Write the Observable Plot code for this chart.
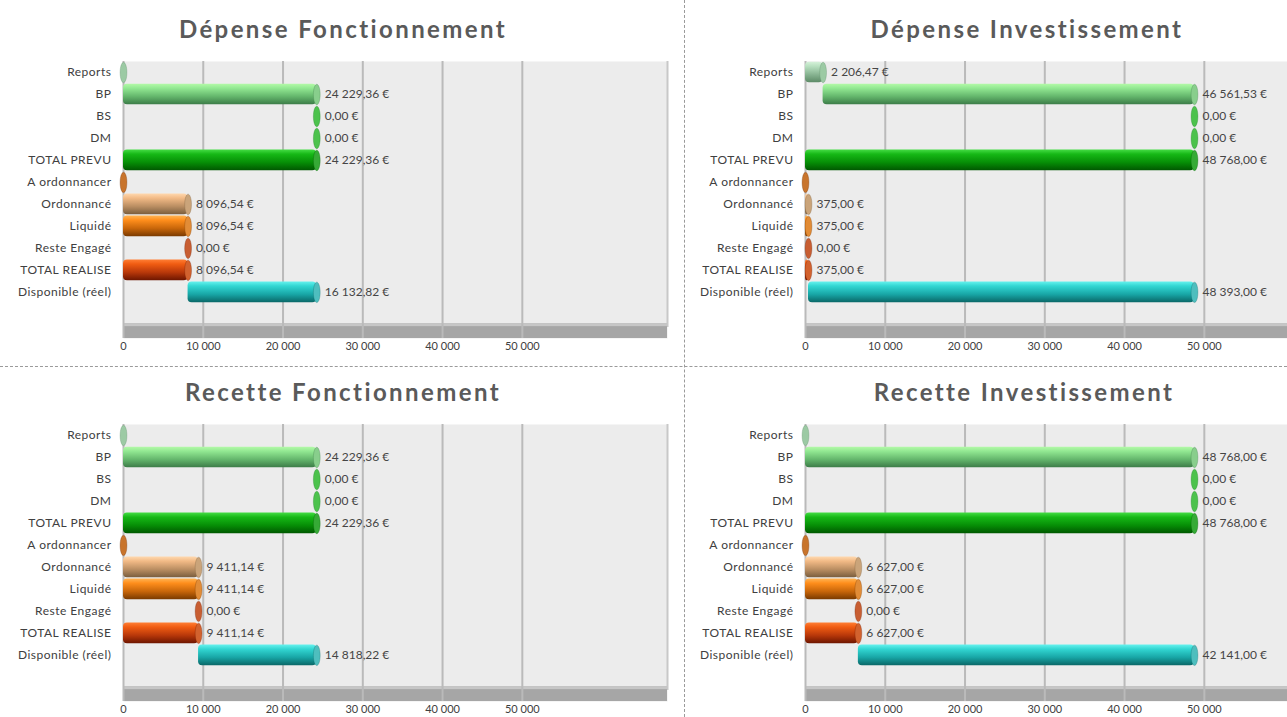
<!DOCTYPE html>
<html>
<head>
<meta charset="utf-8">
<script src="https://cdn.jsdelivr.net/npm/d3@7"></script>
<script src="https://cdn.jsdelivr.net/npm/@observablehq/plot@0.6"></script>
<style>
  html, body { margin: 0; padding: 0; background: #fff; }
  body { width: 1287px; height: 717px; overflow: hidden; position: relative; font-family: Lato, "Open Sans", sans-serif; }
  .title { position: absolute; width: 500px; text-align: center; font-weight: bold; font-size: 24px; line-height: 30px; color: #5a5a5a; letter-spacing: 2.4px; }
  .chart { position: absolute; width: 684px; height: 310px; }
  .chart svg { max-width: none !important; }
  .vsep { position: absolute; left: 684px; top: 0; height: 717px; border-left: 1px dashed #9a9a9a; }
  .hsep { position: absolute; left: 0; top: 366px; width: 1287px; border-top: 1px dashed #9a9a9a; }
</style>
</head>
<body>
<svg width="0" height="0" style="position:absolute"><defs id="gradDefs"></defs></svg>
<div class="vsep"></div>
<div class="hsep"></div>
<script>
// ---------- DATA ----------
const categories = ["Reports", "BP", "BS", "DM", "TOTAL PREVU", "A ordonnancer", "Ordonnancé", "Liquidé", "Reste Engagé", "TOTAL REALISE", "Disponible (réel)"];
const titles = ["Dépense Fonctionnement", "Dépense Investissement", "Recette Fonctionnement", "Recette Investissement"];

const depFoncValues = [0, 24229.36, 0, 0, 24229.36, 0, 8096.54, 8096.54, 0, 8096.54, 16132.82];
const depFoncStarts = [0, 0, 24229.36, 24229.36, 0, 0, 0, 0, 8096.54, 0, 8096.54];

const depInvValues = [2206.47, 46561.53, 0, 0, 48768.00, 0, 375.00, 375.00, 0, 375.00, 48393.00];
const depInvStarts = [0, 2206.47, 48768.00, 48768.00, 0, 0, 0, 0, 375.00, 0, 375.00];

const recFoncValues = [0, 24229.36, 0, 0, 24229.36, 0, 9411.14, 9411.14, 0, 9411.14, 14818.22];
const recFoncStarts = [0, 0, 24229.36, 24229.36, 0, 0, 0, 0, 9411.14, 0, 9411.14];

const recInvValues = [0, 48768.00, 0, 0, 48768.00, 0, 6627.00, 6627.00, 0, 6627.00, 42141.00];
const recInvStarts = [0, 0, 48768.00, 48768.00, 0, 0, 0, 0, 6627.00, 0, 6627.00];

const xTicks = [0, 10000, 20000, 30000, 40000, 50000];
const xMax = 68200;
const unlabelledWhenZero = ["Reports", "A ordonnancer"];

// ---------- STYLE ----------
const barGradients = [
  ["#d6f2da", "#b8e0c0", "#88b492", "#5c8a66"],   // Reports
  ["#b4faa8", "#92e892", "#64b66c", "#3c7c48"],   // BP
  ["#70dc70", "#46c246", "#2a9c34", "#187822"],   // BS
  ["#70dc70", "#46c246", "#2a9c34", "#187822"],   // DM
  ["#44dc44", "#16b816", "#068e06", "#005800"],   // TOTAL PREVU
  ["#ea9450", "#ca7022", "#a05212", "#6e3008"],   // A ordonnancer
  ["#ffd8ae", "#f2ba86", "#ba8e62", "#7a5e3e"],   // Ordonnancé
  ["#ffb454", "#ff8e1c", "#c8660a", "#7a3a00"],   // Liquidé
  ["#ea744a", "#d25c2a", "#a8421a", "#6e2008"],   // Reste Engagé
  ["#ff7e34", "#f05c12", "#b8380a", "#6e1600"],   // TOTAL REALISE
  ["#66f2ee", "#32d6d2", "#18a6a6", "#0a6868"]    // Disponible
];
const capColors = ["#9ccaa4", "#88ce8c", "#4cc24c", "#4cc24c", "#36aa36", "#c8742c", "#caa47a", "#e28c36", "#c85e32", "#d2622e", "#4ebebe"];

const defs = document.getElementById("gradDefs");
barGradients.forEach((stops, i) => {
  const ns = "http://www.w3.org/2000/svg";
  const g = document.createElementNS(ns, "linearGradient");
  g.setAttribute("id", "grad" + i);
  g.setAttribute("x1", "0"); g.setAttribute("y1", "0");
  g.setAttribute("x2", "0"); g.setAttribute("y2", "1");
  [0, 0.22, 0.62, 1].forEach((o, k) => {
    const s = document.createElementNS(ns, "stop");
    s.setAttribute("offset", o);
    s.setAttribute("stop-color", stops[k]);
    g.appendChild(s);
  });
  defs.appendChild(g);
});

const locale = d3.formatLocale({decimal: ",", thousands: "\u00a0", grouping: [3], currency: ["", "\u00a0€"]});
const fmtEuro = locale.format("$,.2f");
const fmtTick = locale.format(",");

const ellipse = {
  draw(ctx) {
    const rx = 3.4, ry = 10.2, k = 0.5523;
    ctx.moveTo(rx, 0);
    ctx.bezierCurveTo(rx, ry * k, rx * k, ry, 0, ry);
    ctx.bezierCurveTo(-rx * k, ry, -rx, ry * k, -rx, 0);
    ctx.bezierCurveTo(-rx, -ry * k, -rx * k, -ry, 0, -ry);
    ctx.bezierCurveTo(rx * k, -ry, rx, -ry * k, rx, 0);
    ctx.closePath();
  }
};

function panel(values, starts) {
  const rows = categories.map((c, i) => ({cat: c, i, value: values[i], start: starts[i], end: starts[i] + values[i]}));
  const labelled = rows.filter(d => !(d.value === 0 && unlabelledWhenZero.includes(d.cat)));
  const svg = Plot.plot({
    width: 684, height: 310,
    marginLeft: 123, marginRight: 17, marginTop: 11, marginBottom: 22,
    x: {domain: [0, xMax], axis: null},
    y: {domain: [-0.5, 12.1], reverse: true, axis: null},
    color: {type: "identity"},
    style: {background: "transparent", fontFamily: "Lato, 'Open Sans', sans-serif", overflow: "visible"},
    marks: [
      Plot.frame({fill: "#ececec", stroke: null}),
      Plot.ruleX([xMax], {y1: -0.5, y2: 11.6, stroke: "#c8c8c8", strokeWidth: 2}),
      Plot.rect([0], {x1: 0, x2: xMax, y1: 11.42, y2: 12.1, fill: "#a6a6a6"}),
      Plot.rect([0], {x1: 0, x2: xMax, y1: 11.42, y2: 11.56, fill: "#c6c6c6"}),
      Plot.ruleX(xTicks, {y1: -0.5, y2: 12.1, stroke: "#bababa", strokeWidth: 2}),
      Plot.rect(rows, {x1: "start", x2: "end", y1: d => d.i - 0.47, y2: d => d.i + 0.47, fill: d => `url(#grad${d.i})`, rx: 4}),
      Plot.dot(rows, {x: "end", y: "i", symbol: ellipse, r: 5, fill: d => capColors[d.i], stroke: d => barGradients[d.i][3], strokeWidth: 0.6, strokeOpacity: 0.5}),
      Plot.text(labelled, {x: "end", y: "i", text: d => fmtEuro(d.value), dx: 8, textAnchor: "start", fontSize: 12, fill: "#454545"}),
      Plot.axisY(categories.map((c, i) => i), {tickFormat: i => categories[i], tickSize: 0, tickPadding: 12, fontSize: 12, fill: "#404040", label: null}),
      Plot.axisX(xTicks, {anchor: "bottom", tickSize: 0, tickPadding: 4, tickFormat: fmtTick, fontSize: 11, fill: "#404040", label: null})
    ]
  });
  svg.style.maxWidth = "none";
  d3.select(svg).selectAll("[aria-label='y-axis tick label'] text").style("letter-spacing", "0.5px");
  return svg;
}

const panels = [
  {values: depFoncValues, starts: depFoncStarts, left: 0, top: 50, titleCenter: 343, titleTop: 14},
  {values: depInvValues, starts: depInvStarts, left: 682, top: 50, titleCenter: 1027, titleTop: 14},
  {values: recFoncValues, starts: recFoncStarts, left: 0, top: 413, titleCenter: 343, titleTop: 377},
  {values: recInvValues, starts: recInvStarts, left: 682, top: 413, titleCenter: 1024, titleTop: 377}
];

panels.forEach((p, k) => {
  const t = document.createElement("div");
  t.className = "title";
  t.textContent = titles[k];
  t.style.left = (p.titleCenter - 250) + "px";
  t.style.top = p.titleTop + "px";
  document.body.appendChild(t);
  const c = document.createElement("div");
  c.className = "chart";
  c.style.left = p.left + "px";
  c.style.top = p.top + "px";
  c.appendChild(panel(p.values, p.starts));
  document.body.appendChild(c);
});
</script>
</body>
</html>
